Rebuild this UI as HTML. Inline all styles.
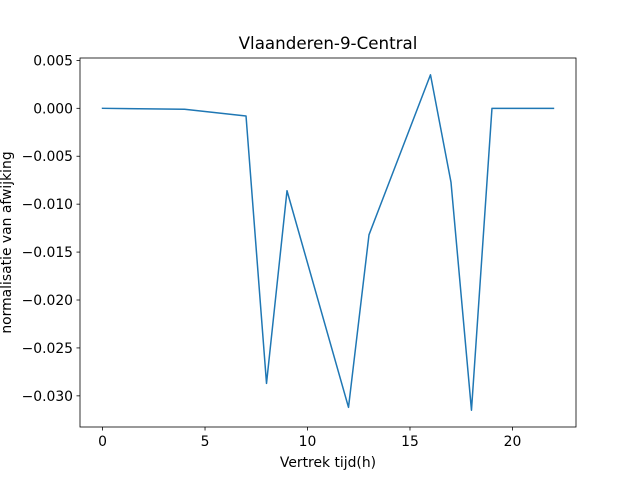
<!DOCTYPE html>
<html><head><meta charset="utf-8"><style>
body{margin:0;background:#fff;}
svg{font-family:"DejaVu Sans","Liberation Sans",sans-serif;}
</style></head><body>
<svg id="chart" width="640" height="480">
<rect width="640" height="480" fill="#fff"/>
</svg>
<script>
const hours = [0, 4, 7, 8, 9, 12, 13, 16, 17, 18, 19, 22];
const deviation = [0, -0.0001, -0.0008, -0.0287, -0.0086, -0.0312, -0.0132, 0.0035, -0.0077, -0.0315, 0, 0];
const xTicks = [0, 5, 10, 15, 20];
const yTicks = [0.005, 0.000, -0.005, -0.010, -0.015, -0.020, -0.025, -0.030];
const yTickLabels = ["0.005", "0.000", "\u22120.005", "\u22120.010", "\u22120.015", "\u22120.020", "\u22120.025", "\u22120.030"];

const L = 80, R = 576, T = 58, B = 427;
const xmin = Math.min(...hours), xmax = Math.max(...hours);
const ymin = Math.min(...deviation), ymax = Math.max(...deviation);
const xpad = (xmax - xmin) * 0.05, ypad = (ymax - ymin) * 0.05;
const x0 = xmin - xpad, x1 = xmax + xpad, y0 = ymin - ypad, y1 = ymax + ypad;
const sx = v => L + (v - x0) / (x1 - x0) * (R - L);
const sy = v => B - (v - y0) / (y1 - y0) * (B - T);

const svg = document.getElementById('chart');
const NS = 'http://www.w3.org/2000/svg';
function mk(tag, attrs, text) {
  const e = document.createElementNS(NS, tag);
  for (const k in attrs) e.setAttribute(k, attrs[k]);
  if (text !== undefined) e.textContent = text;
  svg.appendChild(e);
  return e;
}

const pts = hours.map((h, i) => sx(h).toFixed(2) + ',' + sy(deviation[i]).toFixed(2)).join(' ');
const line = mk('polyline', {points: pts, fill: 'none', stroke: '#1f77b4', 'stroke-width': 1.5, 'stroke-linejoin': 'round', 'stroke-linecap': 'square'});



const frame = mk('rect', {x: L, y: T, width: R - L, height: B - T, fill: 'none', stroke: '#000', 'stroke-width': 0.8});



xTicks.forEach(t => {
  const x = sx(t);
  const tk = mk('line', {x1: x, x2: x, y1: B, y2: B + 3.5, stroke: '#000', 'stroke-width': 0.8});
  
  
  const lb = mk('text', {x: x, y: B + 19, 'font-size': 13.9, 'text-anchor': 'middle', fill: '#000'}, String(t));
  
  
});
yTicks.forEach((t, i) => {
  const y = sy(t);
  const tk = mk('line', {x1: L - 3.5, x2: L, y1: y, y2: y, stroke: '#000', 'stroke-width': 0.8});
  
  
  const lb = mk('text', {x: L - 7, y: y + 5, 'font-size': 13.9, 'text-anchor': 'end', fill: '#000'}, yTickLabels[i]);
  
  
});

const title = mk('text', {x: (L + R) / 2, y: 49, 'font-size': 16.7, 'text-anchor': 'middle', fill: '#000'}, 'Vlaanderen-9-Central');


const xt = mk('text', {x: (L + R) / 2, y: 467, 'font-size': 13.9, 'text-anchor': 'middle', fill: '#000'}, 'Vertrek tijd(h)');


const yt = mk('text', {x: 0, y: 0, 'font-size': 13.9, 'text-anchor': 'middle', fill: '#000', transform: 'translate(11,' + ((T + B) / 2) + ') rotate(-90)'}, 'normalisatie van afwijking');


</script>
</body></html>
